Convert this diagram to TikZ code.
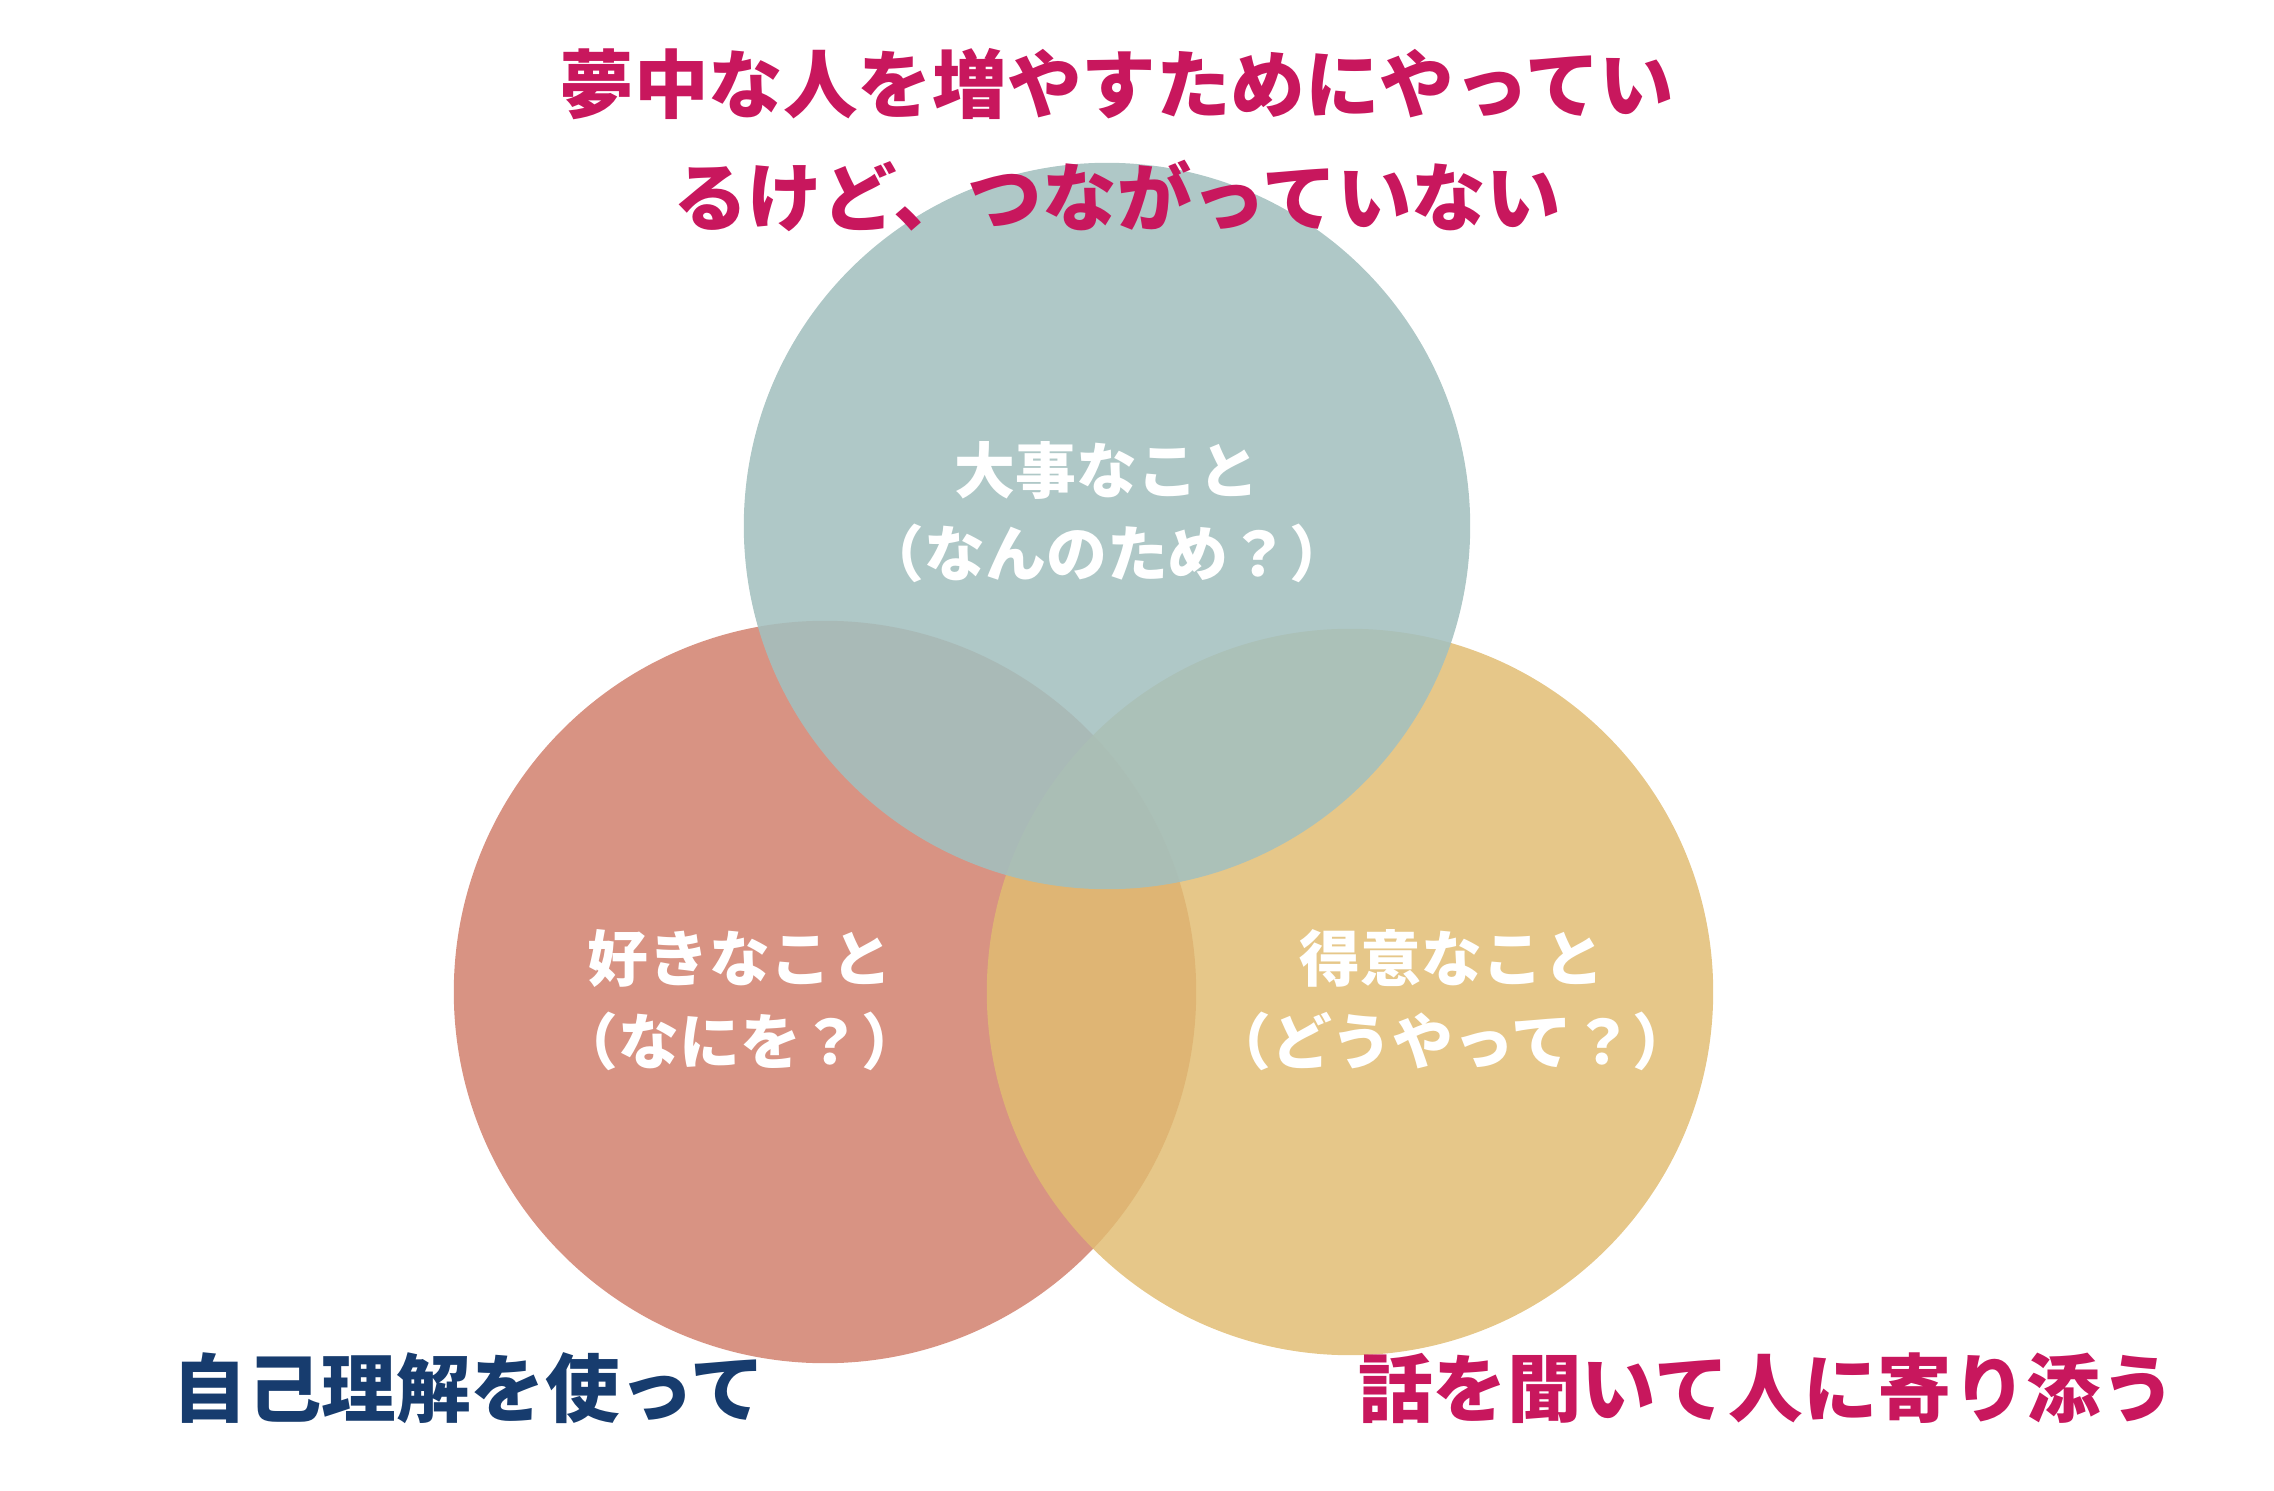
\documentclass[tikz,border=0pt]{standalone}
\usepackage{xcolor}
\usepackage{fontspec}
\usepackage{tikz}
\usetikzlibrary{shapes,positioning}
\newfontfamily\jpfont{Noto Sans CJK JP}

\definecolor{tealC}{HTML}{A3C0BF}
\definecolor{redC}{HTML}{D89383}
\definecolor{yellowC}{HTML}{E1BC71}
\definecolor{magentaT}{HTML}{C8175D}
\definecolor{navyT}{HTML}{173C6E}

\begin{document}
\begin{tikzpicture}[
    x=0.01cm, y=-0.01cm,
    ring/.style={circle, inner sep=0pt, minimum size=7.26cm},
    inlabel/.style={text=white, align=center, font=\jpfont\bfseries\fontsize{17.3}{23.6}\selectfont},
    headline/.style={align=center, font=\jpfont\bfseries\fontsize{21.2}{31.9}\selectfont}
]
    \useasboundingbox (0,0) rectangle (2274,1491);

    % three circles
    \node[ring, minimum size=7.42cm, fill=redC] (suki) at (825,992) {};
    \node[ring, fill=yellowC, fill opacity=0.83] (tokui) at (1350,992) {};
    \node[ring, fill=tealC, fill opacity=0.87] (daiji) at (1107,526) {};

    % labels inside
    \node[inlabel] (daijiText) at (1107,512) {大事なこと\\（なんのため？）};
    \node[inlabel] (sukiText) at (740,1000) {好きなこと\\（なにを？）};
    \node[inlabel] (tokuiText) at (1452,1000) {得意なこと\\（どうやって？）};

    % outer texts
    \node[headline, text=magentaT] (topNote) at (1117,140) {夢中な人を増やすためにやってい\\るけど、つながっていない};
    \node[headline, text=navyT] (selfNote) at (469,1388) {自己理解を使って};
    \node[headline, text=magentaT] (listenNote) at (1767,1388) {話を聞いて人に寄り添う};
\end{tikzpicture}
\end{document}
